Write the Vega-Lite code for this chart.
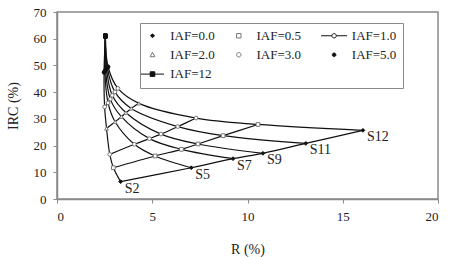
{
  "$schema": "https://vega.github.io/schema/vega-lite/v6.json",
  "width": 381,
  "height": 187,
  "autosize": {"type": "none"},
  "padding": {"left": 57, "top": 12, "right": 12, "bottom": 58},
  "background": "white",
  "config": {
    "view": {"stroke": "#8a8a8a", "strokeWidth": 1.5},
    "font": "Liberation Serif",
    "axis": {
      "grid": false,
      "domainColor": "#8a8a8a",
      "domainWidth": 1.5,
      "tickColor": "#8a8a8a",
      "tickSize": 4,
      "labelPadding": 7,
      "labelOverlap": false,
      "labelFont": "Liberation Serif",
      "labelFontSize": 13,
      "labelColor": "#222222",
      "titleFont": "Liberation Serif",
      "titleFontSize": 14,
      "titleFontWeight": "normal",
      "titleColor": "#222222"
    },
    "legend": {"strokeColor": "#8a8a8a"}
  },
  "datasets": {
    "pts": [
      {"s": "S2", "si": 2, "iaf": 0, "lab": "IAF=0.0", "r": 3.34, "irc": 6.5},
      {"s": "S2", "si": 2, "iaf": 0.5, "lab": "IAF=0.5", "r": 2.96, "irc": 11.7},
      {"s": "S2", "si": 2, "iaf": 1, "lab": "IAF=1.0", "r": 2.77, "irc": 16.7},
      {"s": "S2", "si": 2, "iaf": 2, "lab": "IAF=2.0", "r": 2.6, "irc": 26.4},
      {"s": "S2", "si": 2, "iaf": 3, "lab": "IAF=3.0", "r": 2.5, "irc": 34.5},
      {"s": "S2", "si": 2, "iaf": 5, "lab": "IAF=5.0", "r": 2.47, "irc": 47.4},
      {"s": "S2", "si": 2, "iaf": 12, "lab": "IAF=12", "r": 2.54, "irc": 61},
      {"s": "S5", "si": 5, "iaf": 0, "lab": "IAF=0.0", "r": 7.05, "irc": 11.7},
      {"s": "S5", "si": 5, "iaf": 0.5, "lab": "IAF=0.5", "r": 5.15, "irc": 16.1},
      {"s": "S5", "si": 5, "iaf": 1, "lab": "IAF=1.0", "r": 4.06, "irc": 20.5},
      {"s": "S5", "si": 5, "iaf": 2, "lab": "IAF=2.0", "r": 3.05, "irc": 28.9},
      {"s": "S5", "si": 5, "iaf": 3, "lab": "IAF=3.0", "r": 2.68, "irc": 36.0},
      {"s": "S5", "si": 5, "iaf": 5, "lab": "IAF=5.0", "r": 2.51, "irc": 47.8},
      {"s": "S5", "si": 5, "iaf": 12, "lab": "IAF=12", "r": 2.54, "irc": 61},
      {"s": "S7", "si": 7, "iaf": 0, "lab": "IAF=0.0", "r": 9.24, "irc": 15.1},
      {"s": "S7", "si": 7, "iaf": 0.5, "lab": "IAF=0.5", "r": 6.53, "irc": 18.6},
      {"s": "S7", "si": 7, "iaf": 1, "lab": "IAF=1.0", "r": 4.85, "irc": 22.6},
      {"s": "S7", "si": 7, "iaf": 2, "lab": "IAF=2.0", "r": 3.38, "irc": 30.8},
      {"s": "S7", "si": 7, "iaf": 3, "lab": "IAF=3.0", "r": 2.8, "irc": 37.4},
      {"s": "S7", "si": 7, "iaf": 5, "lab": "IAF=5.0", "r": 2.55, "irc": 48.3},
      {"s": "S7", "si": 7, "iaf": 12, "lab": "IAF=12", "r": 2.54, "irc": 61},
      {"s": "S9", "si": 9, "iaf": 0, "lab": "IAF=0.0", "r": 10.81, "irc": 17.1},
      {"s": "S9", "si": 9, "iaf": 0.5, "lab": "IAF=0.5", "r": 7.4, "irc": 20.6},
      {"s": "S9", "si": 9, "iaf": 1, "lab": "IAF=1.0", "r": 5.46, "irc": 24.3},
      {"s": "S9", "si": 9, "iaf": 2, "lab": "IAF=2.0", "r": 3.62, "irc": 32.3},
      {"s": "S9", "si": 9, "iaf": 3, "lab": "IAF=3.0", "r": 2.9, "irc": 38.8},
      {"s": "S9", "si": 9, "iaf": 5, "lab": "IAF=5.0", "r": 2.6, "irc": 48.8},
      {"s": "S9", "si": 9, "iaf": 12, "lab": "IAF=12", "r": 2.54, "irc": 61},
      {"s": "S11", "si": 11, "iaf": 0, "lab": "IAF=0.0", "r": 13.06, "irc": 20.8},
      {"s": "S11", "si": 11, "iaf": 0.5, "lab": "IAF=0.5", "r": 8.72, "irc": 23.7},
      {"s": "S11", "si": 11, "iaf": 1, "lab": "IAF=1.0", "r": 6.34, "irc": 27.1},
      {"s": "S11", "si": 11, "iaf": 2, "lab": "IAF=2.0", "r": 3.9, "irc": 33.9},
      {"s": "S11", "si": 11, "iaf": 3, "lab": "IAF=3.0", "r": 3.04, "irc": 40.1},
      {"s": "S11", "si": 11, "iaf": 5, "lab": "IAF=5.0", "r": 2.64, "irc": 49.2},
      {"s": "S11", "si": 11, "iaf": 12, "lab": "IAF=12", "r": 2.54, "irc": 61},
      {"s": "S12", "si": 12, "iaf": 0, "lab": "IAF=0.0", "r": 16.06, "irc": 25.7},
      {"s": "S12", "si": 12, "iaf": 0.5, "lab": "IAF=0.5", "r": 10.55, "irc": 27.9},
      {"s": "S12", "si": 12, "iaf": 1, "lab": "IAF=1.0", "r": 7.3, "irc": 30.3},
      {"s": "S12", "si": 12, "iaf": 2, "lab": "IAF=2.0", "r": 4.3, "irc": 35.8},
      {"s": "S12", "si": 12, "iaf": 3, "lab": "IAF=3.0", "r": 3.2, "irc": 41.4},
      {"s": "S12", "si": 12, "iaf": 5, "lab": "IAF=5.0", "r": 2.68, "irc": 49.5},
      {"s": "S12", "si": 12, "iaf": 12, "lab": "IAF=12", "r": 2.54, "irc": 61}
    ]
  },
  "encoding": {
    "x": {"field": "r", "type": "quantitative", "title": "R (%)",
          "scale": {"domain": [0, 20]},
          "axis": {"values": [0, 5, 10, 15, 20], "tickCount": 5, "titlePadding": 19, "labelOverlap": false}},
    "y": {"field": "irc", "type": "quantitative", "title": "IRC (%)",
          "scale": {"domain": [0, 70]},
          "axis": {"values": [0, 10, 20, 30, 40, 50, 60, 70], "tickCount": 8, "titlePadding": 13, "labelOverlap": false, "labelFlush": false}}
  },
  "layer": [
    {
      "data": {"name": "pts"},
      "mark": {"type": "line", "interpolate": "catmull-rom", "color": "#111111", "strokeWidth": 1.2},
      "encoding": {
        "detail": {"field": "s"},
        "order": {"field": "iaf", "type": "quantitative"}
      }
    },
    {
      "data": {"name": "pts"},
      "transform": [{"filter": "datum.iaf < 12"}],
      "mark": {"type": "line", "interpolate": "catmull-rom", "color": "#111111", "strokeWidth": 1.2},
      "encoding": {
        "detail": {"field": "lab"},
        "order": {"field": "si", "type": "quantitative"}
      }
    },
    {
      "data": {"name": "pts"},
      "mark": {"type": "point", "opacity": 1, "strokeWidth": 1},
      "encoding": {
        "shape": {"field": "lab", "type": "nominal", "legend": null,
                  "scale": {"domain": ["IAF=0.0", "IAF=0.5", "IAF=1.0", "IAF=2.0", "IAF=3.0", "IAF=5.0", "IAF=12"],
                            "range": ["diamond", "square", "circle", "triangle-up", "circle", "circle", "square"]}},
        "fill": {"field": "lab", "type": "nominal", "legend": null,
                 "scale": {"domain": ["IAF=0.0", "IAF=0.5", "IAF=1.0", "IAF=2.0", "IAF=3.0", "IAF=5.0", "IAF=12"],
                           "range": ["#111111", "#ffffff", "#ffffff", "#ffffff", "#ffffff", "#111111", "#111111"]}},
        "stroke": {"field": "lab", "type": "nominal", "legend": null,
                   "scale": {"domain": ["IAF=0.0", "IAF=0.5", "IAF=1.0", "IAF=2.0", "IAF=3.0", "IAF=5.0", "IAF=12"],
                             "range": ["#111111", "#777777", "#777777", "#777777", "#777777", "#111111", "#111111"]}},
        "size": {"field": "lab", "type": "nominal", "legend": null,
                 "scale": {"domain": ["IAF=0.0", "IAF=0.5", "IAF=1.0", "IAF=2.0", "IAF=3.0", "IAF=5.0", "IAF=12"],
                           "range": [14, 14, 14, 16, 16, 12, 28]}}
      }
    },
    {
      "data": {"name": "pts"},
      "transform": [{"filter": "datum.iaf == 0"}],
      "mark": {"type": "text", "align": "left", "baseline": "middle", "dx": 4, "dy": 7,
               "font": "Liberation Serif", "fontSize": 14, "color": "#222222"},
      "encoding": {
        "text": {"field": "s", "type": "nominal"}
      }
    },
    {
      "data": {"values": []},
      "mark": {"type": "point", "opacity": 1, "strokeWidth": 1},
      "encoding": {
        "shape": {"field": "lab", "type": "nominal",
                  "scale": {"domain": ["IAF=0.0", "IAF=0.5", "IAF=1.0", "IAF=2.0", "IAF=3.0", "IAF=5.0", "IAF=12"],
                            "range": [
                              "M0,-0.4L0.4,0L0,0.4L-0.4,0Z",
                              "M-0.44,-0.44L0.44,-0.44L0.44,0.44L-0.44,0.44Z",
                              "M-2.6,0L-0.44,0M0.44,0L2.6,0M0.44,0A0.44,0.44,0,1,1,-0.44,0A0.44,0.44,0,1,1,0.44,0Z",
                              "M0,-0.5L0.48,0.38L-0.48,0.38Z",
                              "M0.44,0A0.44,0.44,0,1,1,-0.44,0A0.44,0.44,0,1,1,0.44,0Z",
                              "M0.36,0A0.36,0.36,0,1,1,-0.36,0A0.36,0.36,0,1,1,0.36,0Z",
                              "M-2.3,0L2.3,0M-0.46,-0.46L0.46,-0.46L0.46,0.46L-0.46,0.46Z"
                            ]},
                  "legend": {"title": null, "orient": "none", "legendX": 83, "legendY": 11, "columns": 3,
                             "direction": "horizontal",
                             "symbolSize": 100, "labelOffset": 11.2, "columnPadding": 17.3, "rowPadding": 5.3,
                             "padding": 6, "strokeColor": "#8a8a8a",
                             "labelFont": "Liberation Serif", "labelFontSize": 13, "labelColor": "#222222",
                             "symbolStrokeWidth": 1}},
        "fill": {"field": "lab", "type": "nominal",
                 "scale": {"domain": ["IAF=0.0", "IAF=0.5", "IAF=1.0", "IAF=2.0", "IAF=3.0", "IAF=5.0", "IAF=12"],
                           "range": ["#111111", "#ffffff", "#ffffff", "#ffffff", "#ffffff", "#111111", "#111111"]},
                 "legend": {"title": null, "orient": "none", "legendX": 83, "legendY": 11, "columns": 3,
                            "direction": "horizontal",
                            "symbolSize": 100, "labelOffset": 11.2, "columnPadding": 17.3, "rowPadding": 5.3,
                            "padding": 6, "strokeColor": "#8a8a8a",
                            "labelFont": "Liberation Serif", "labelFontSize": 13, "labelColor": "#222222",
                            "symbolStrokeWidth": 1}},
        "stroke": {"field": "lab", "type": "nominal",
                   "scale": {"domain": ["IAF=0.0", "IAF=0.5", "IAF=1.0", "IAF=2.0", "IAF=3.0", "IAF=5.0", "IAF=12"],
                             "range": ["#111111", "#777777", "#111111", "#777777", "#777777", "#111111", "#111111"]},
                   "legend": {"title": null, "orient": "none", "legendX": 83, "legendY": 11, "columns": 3,
                              "direction": "horizontal",
                              "symbolSize": 100, "labelOffset": 11.2, "columnPadding": 17.3, "rowPadding": 5.3,
                              "padding": 6, "strokeColor": "#8a8a8a",
                              "labelFont": "Liberation Serif", "labelFontSize": 13, "labelColor": "#222222",
                              "symbolStrokeWidth": 1}}
      }
    }
  ],
  "resolve": {"scale": {"shape": "independent", "fill": "independent", "stroke": "independent", "size": "independent"}}
}
